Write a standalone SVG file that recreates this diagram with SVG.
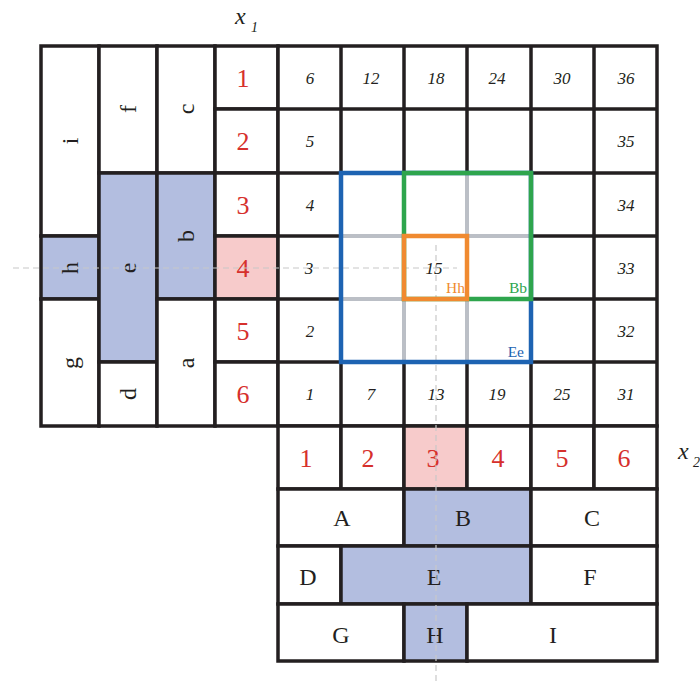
<svg xmlns="http://www.w3.org/2000/svg" width="700" height="685" viewBox="0 0 700 685">
<style>
.c{fill:#fff;stroke:#231f20;stroke-width:3.5}
.cb{fill:#b3bee0;stroke:#231f20;stroke-width:3.5}
.cp{fill:#f7cbcb;stroke:#231f20;stroke-width:3.5}
.g{fill:none;stroke:#bbbfc6;stroke-width:4}
.lt{font-family:"Liberation Serif",serif;font-size:24px;fill:#231f20;text-anchor:middle;dominant-baseline:central}
.rn{font-family:"Liberation Serif",serif;font-size:26px;fill:#d6302c;text-anchor:middle;dominant-baseline:central}
.it{font-family:"Liberation Serif",serif;font-style:italic;font-size:17px;fill:#231f20;text-anchor:middle;dominant-baseline:central}
.ax{font-family:"Liberation Serif",serif;font-style:italic;fill:#231f20}
.dash{stroke:#c8c8c8;stroke-width:1.2;stroke-dasharray:6 4;fill:none}
.lb{font-family:"Liberation Serif",serif;font-size:15.5px;text-anchor:end}
</style>
<rect width="700" height="685" fill="#fff"/>
<g id="left-blocks">
<g id="n-i"><rect class="c" x="41" y="46" width="58" height="190"/><text class="lt" transform="translate(70,141) rotate(-90)">i</text></g>
<g id="n-h"><rect class="cb" x="41" y="236" width="58" height="63"/><text class="lt" transform="translate(70,268) rotate(-90)">h</text></g>
<g id="n-g"><rect class="c" x="41" y="299" width="58" height="127"/><text class="lt" transform="translate(70,363) rotate(-90)">g</text></g>
<g id="n-f"><rect class="c" x="99" y="46" width="58" height="127"/><text class="lt" transform="translate(128,109) rotate(-90)">f</text></g>
<g id="n-e"><rect class="cb" x="99" y="173" width="58" height="189"/><text class="lt" transform="translate(128,268) rotate(-90)">e</text></g>
<g id="n-d"><rect class="c" x="99" y="362" width="58" height="64"/><text class="lt" transform="translate(128,394) rotate(-90)">d</text></g>
<g id="n-c"><rect class="c" x="157" y="46" width="58" height="127"/><text class="lt" transform="translate(186,109) rotate(-90)">c</text></g>
<g id="n-b"><rect class="cb" x="157" y="173" width="58" height="126"/><text class="lt" transform="translate(186,236) rotate(-90)">b</text></g>
<g id="n-a"><rect class="c" x="157" y="299" width="58" height="127"/><text class="lt" transform="translate(186,363) rotate(-90)">a</text></g>
</g>
<g id="x1-index">
<g id="r1"><rect class="c" x="215" y="46" width="63" height="63"/><text class="rn" x="243" y="78">1</text></g>
<g id="r2"><rect class="c" x="215" y="109" width="63" height="64"/><text class="rn" x="243" y="141">2</text></g>
<g id="r3"><rect class="c" x="215" y="173" width="63" height="63"/><text class="rn" x="243" y="205">3</text></g>
<g id="r4"><rect class="cp" x="215" y="236" width="63" height="63"/><text class="rn" x="243" y="268">4</text></g>
<g id="r5"><rect class="c" x="215" y="299" width="63" height="63"/><text class="rn" x="243" y="331">5</text></g>
<g id="r6"><rect class="c" x="215" y="362" width="63" height="64"/><text class="rn" x="243" y="394">6</text></g>
</g>
<g id="grid">
<path fill="#fff" stroke="#231f20" stroke-width="3.5" d="M278 46H657V426H278Z M278 109H657 M278 173H657 M278 236H657 M278 299H657 M278 362H657 M341 46V426 M404 46V426 M467 46V426 M531 46V426 M594 46V426"/>
<rect x="341" y="173" width="190" height="189" fill="#fff"/>
<path class="g" d="M341 236H531 M341 299H531 M404 173V362 M467 173V362"/>
<g class="it">
<text x="310" y="78">6</text><text x="371" y="78">12</text><text x="436" y="78">18</text><text x="497" y="78">24</text><text x="562" y="78">30</text><text x="626" y="78">36</text>
<text x="310" y="141">5</text><text x="626" y="141">35</text>
<text x="310" y="205">4</text><text x="626" y="205">34</text>
<text x="309" y="268">3</text><text x="434" y="268">15</text><text x="626" y="268">33</text>
<text x="310" y="331">2</text><text x="626" y="331">32</text>
<text x="310" y="394">1</text><text x="371" y="394">7</text><text x="436" y="394">13</text><text x="497" y="394">19</text><text x="562" y="394">25</text><text x="626" y="394">31</text>
</g>
</g>
<g id="x2-index">
<g id="c1"><rect class="c" x="278" y="426" width="63" height="63"/><text class="rn" x="306" y="458">1</text></g>
<g id="c2"><rect class="c" x="341" y="426" width="63" height="63"/><text class="rn" x="368" y="458">2</text></g>
<g id="c3"><rect class="cp" x="404" y="426" width="63" height="63"/><text class="rn" x="433" y="458">3</text></g>
<g id="c4"><rect class="c" x="467" y="426" width="64" height="63"/><text class="rn" x="498" y="458">4</text></g>
<g id="c5"><rect class="c" x="531" y="426" width="63" height="63"/><text class="rn" x="562" y="458">5</text></g>
<g id="c6"><rect class="c" x="594" y="426" width="63" height="63"/><text class="rn" x="624" y="458">6</text></g>
</g>
<g id="bottom-blocks">
<g id="n-A"><rect class="c" x="278" y="489" width="126" height="57"/><text class="lt" x="342" y="518">A</text></g>
<g id="n-B"><rect class="cb" x="404" y="489" width="127" height="57"/><text class="lt" x="463" y="518">B</text></g>
<g id="n-C"><rect class="c" x="531" y="489" width="126" height="57"/><text class="lt" x="592" y="518">C</text></g>
<g id="n-D"><rect class="c" x="278" y="546" width="63" height="58"/><text class="lt" x="308" y="577">D</text></g>
<g id="n-E"><rect class="cb" x="341" y="546" width="190" height="58"/><text class="lt" x="434" y="577">E</text></g>
<g id="n-F"><rect class="c" x="531" y="546" width="126" height="58"/><text class="lt" x="590" y="577">F</text></g>
<g id="n-G"><rect class="c" x="278" y="604" width="126" height="57"/><text class="lt" x="341" y="635">G</text></g>
<g id="n-H"><rect class="cb" x="404" y="604" width="63" height="57"/><text class="lt" x="435" y="635">H</text></g>
<g id="n-I"><rect class="c" x="467" y="604" width="190" height="57"/><text class="lt" x="553" y="635">I</text></g>
</g>
<g id="connectors">
<path class="dash" d="M13 268H457 M436 245V685"/>
</g>
<g id="squares">
<g id="Ee"><rect x="341" y="173" width="190" height="189" fill="none" stroke="#1d63b2" stroke-width="4.5"/><text class="lb" x="524" y="357" fill="#1d63b2">Ee</text></g>
<g id="Bb"><rect x="404" y="173" width="127" height="126" fill="none" stroke="#2ea54d" stroke-width="4.5"/><text class="lb" x="527" y="293" fill="#2ea54d">Bb</text></g>
<g id="Hh"><rect x="404" y="236" width="63" height="63" fill="none" stroke="#f08a30" stroke-width="4.5"/><text class="lb" x="465" y="293" fill="#f08a30">Hh</text></g>
</g>
<g id="axes">
<text class="ax" x="235" y="24" font-size="24">x</text><text class="ax" x="251" y="32" font-size="14">1</text>
<text class="ax" x="678" y="459" font-size="24">x</text><text class="ax" x="693" y="467" font-size="14">2</text>
</g>
</svg>
